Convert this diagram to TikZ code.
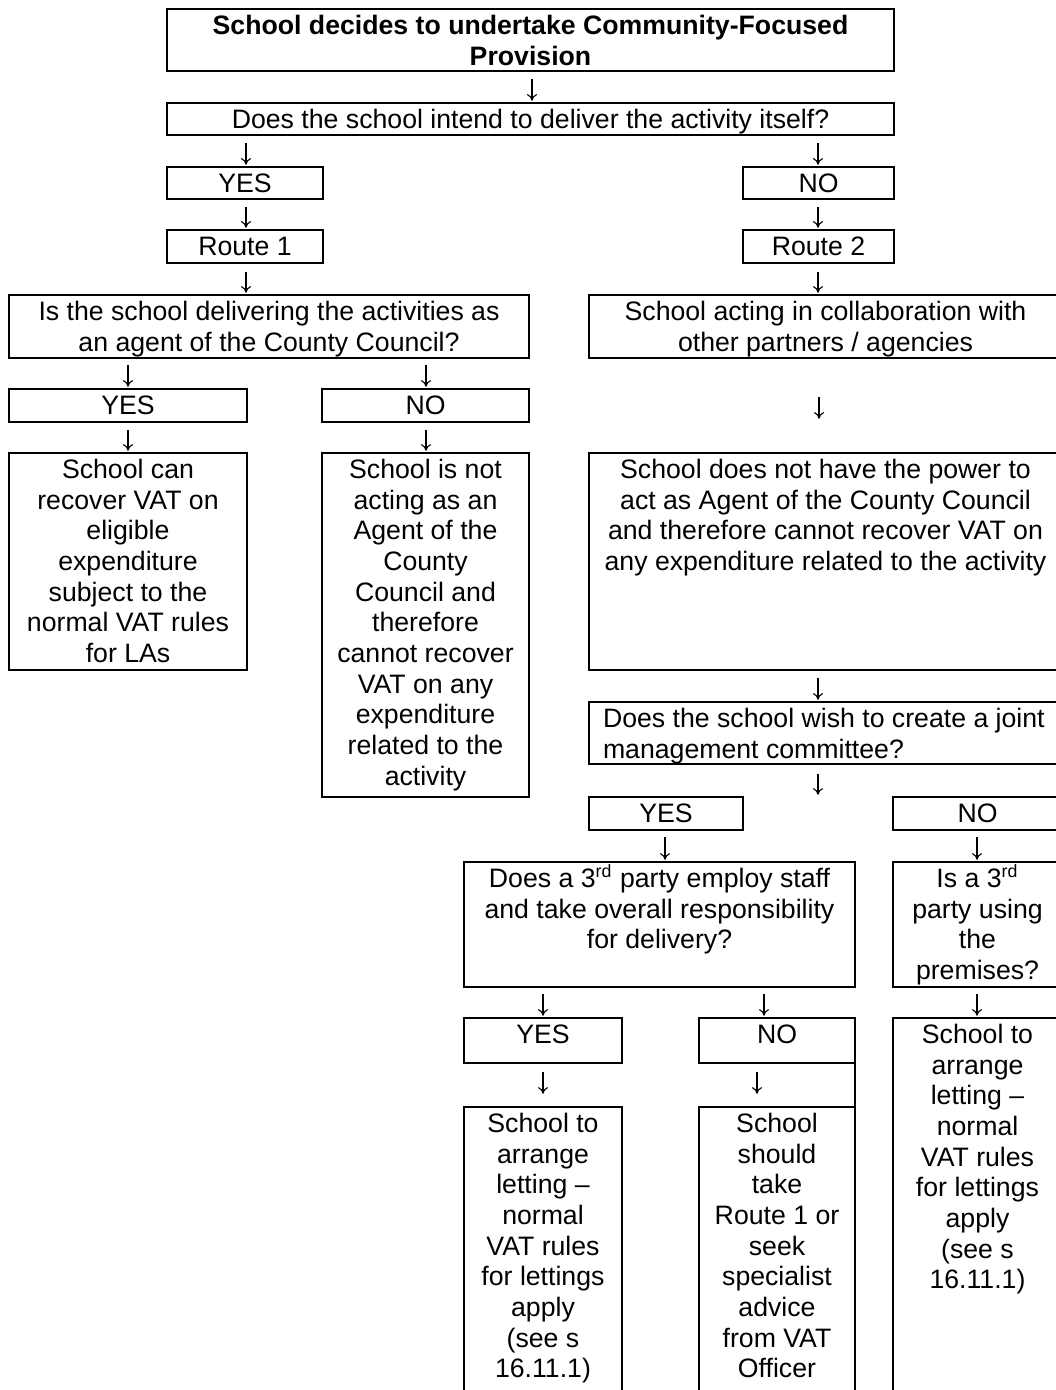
\documentclass[tikz,border=0pt]{standalone}
\usepackage{fontspec}
\setmainfont{Liberation Sans}
\usetikzlibrary{arrows.meta}
\newlength{\cellunit}
\setlength{\cellunit}{0.45pt}
\newcommand{\boxcell}[4][\centering]{\parbox[t][#3\cellunit][t]{#2\cellunit}{\fontsize{12}{13.8}\selectfont#1\rule{0pt}{11.4pt}#4}}

\begin{document}
\begin{tikzpicture}[x=0.45pt, y=-0.45pt,
	box/.style={draw, line width=0.8pt, inner sep=0pt, outer sep=0pt, anchor=north west},
	arr/.style={-{To[length=3pt,width=4.5pt]}, line width=0.5pt, shorten >=1pt}]
	\useasboundingbox (0,0) rectangle (1056,1390);
	% first question and route choice
	\node[box] (start) at (167,9) {\boxcell[\centering\bfseries]{727}{62}{School decides to undertake Community-Focused\\Provision}};
	\node[box] (deliver) at (167,103) {\boxcell{727}{32}{Does the school intend to deliver the activity itself?}};
	\node[box] (yesA) at (167,167) {\boxcell{156}{32}{YES}};
	\node[box] (noA) at (743,167) {\boxcell{151}{32}{NO}};
	\node[box] (routeA) at (167,230) {\boxcell{156}{33}{Route 1}};
	\node[box] (routeB) at (743,230) {\boxcell{151}{33}{Route 2}};
	% route 1
	\node[box] (agent) at (9,295) {\boxcell{520}{63}{Is the school delivering the activities as\\an agent of the County Council?}};
	\node[box] (yesB) at (9,389) {\boxcell{238}{33}{YES}};
	\node[box] (noB) at (322,389) {\boxcell{207}{33}{NO}};
	\node[box] (recover) at (9,453) {\boxcell{238}{217}{School can\\recover VAT on\\eligible\\expenditure\\subject to the\\normal VAT rules\\for LAs}};
	\node[box] (noagent) at (322,453) {\boxcell{207}{344}{School is not\\acting as an\\Agent of the\\County\\Council and\\therefore\\cannot recover\\VAT on any\\expenditure\\related to the\\activity}};
	% route 2
	\node[box] (collab) at (589,295) {\boxcell{473}{63}{School acting in collaboration with\\other partners / agencies}};
	\node[box] (nopower) at (589,453) {\boxcell{473}{217}{School does not have the power to\\act as Agent of the County Council\\and therefore cannot recover VAT on\\any expenditure related to the activity}};
	\node[box] (joint) at (589,702) {\boxcell[\raggedright\leftskip=14\cellunit]{473}{62}{Does the school wish to create a joint\\management committee?}};
	\node[box] (yesC) at (589,797) {\boxcell{154}{33}{YES}};
	\node[box] (noC) at (893,797) {\boxcell{169}{33}{NO}};
	\node[box] (third) at (464,862) {\boxcell{391}{125}{Does a 3\textsuperscript{rd} party employ staff\\and take overall responsibility\\for delivery?}};
	\node[box] (premises) at (893,862) {\boxcell{169}{125}{Is a 3\textsuperscript{rd}\\party using\\the\\premises?}};
	\node[box] (yesD) at (464,1018) {\boxcell{158}{45}{YES}};
	\node[box] (noD) at (699,1018) {\boxcell{156}{45}{NO}};
	\node[box] (lettingA) at (464,1107) {\boxcell{158}{293}{School to\\arrange\\letting –\\normal\\VAT rules\\for lettings\\apply\\(see s\\16.11.1)}};
	\node[box] (advice) at (699,1107) {\boxcell{156}{293}{School\\should\\take\\Route 1 or\\seek\\specialist\\advice\\from VAT\\Officer}};
	\node[box] (lettingB) at (893,1018) {\boxcell{169}{382}{School to\\arrange\\letting –\\normal\\VAT rules\\for lettings\\apply\\(see s\\16.11.1)}};
	\draw[line width=0.8pt] (noD.south east) -- (advice.north east);
	% arrows
	\coordinate (a1) at (532,79);
	\draw[arr] (a1) -- (a1 |- deliver.north);
	\coordinate (a2) at (246,143);
	\draw[arr] (a2) -- (a2 |- yesA.north);
	\coordinate (a3) at (818,143);
	\draw[arr] (a3) -- (a3 |- noA.north);
	\coordinate (a4) at (246,207);
	\draw[arr] (a4) -- (a4 |- routeA.north);
	\coordinate (a5) at (818,207);
	\draw[arr] (a5) -- (a5 |- routeB.north);
	\coordinate (a6) at (246,272);
	\draw[arr] (a6) -- (a6 |- agent.north);
	\coordinate (a7) at (818,272);
	\draw[arr] (a7) -- (a7 |- collab.north);
	\coordinate (a8) at (128,365);
	\draw[arr] (a8) -- (a8 |- yesB.north);
	\coordinate (a9) at (426,365);
	\draw[arr] (a9) -- (a9 |- noB.north);
	\coordinate (a10) at (819,397);
	\coordinate (a10e) at (819,421);
	\draw[arr] (a10) -- (a10e);
	\coordinate (a11) at (128,430);
	\draw[arr] (a11) -- (a11 |- recover.north);
	\coordinate (a12) at (426,430);
	\draw[arr] (a12) -- (a12 |- noagent.north);
	\coordinate (a13) at (818,678);
	\draw[arr] (a13) -- (a13 |- joint.north);
	\coordinate (a14) at (818,774);
	\draw[arr] (a14) -- (a14 |- yesC.north);
	\coordinate (a15) at (665,837);
	\draw[arr] (a15) -- (a15 |- third.north);
	\coordinate (a16) at (977,837);
	\draw[arr] (a16) -- (a16 |- premises.north);
	\coordinate (a17) at (543,994);
	\draw[arr] (a17) -- (a17 |- yesD.north);
	\coordinate (a18) at (764,994);
	\draw[arr] (a18) -- (a18 |- noD.north);
	\coordinate (a19) at (977,994);
	\draw[arr] (a19) -- (a19 |- lettingB.north);
	\coordinate (a20) at (543,1072);
	\coordinate (a20e) at (543,1096);
	\draw[arr] (a20) -- (a20e);
	\coordinate (a21) at (757,1072);
	\coordinate (a21e) at (757,1096);
	\draw[arr] (a21) -- (a21e);
\end{tikzpicture}
\end{document}
